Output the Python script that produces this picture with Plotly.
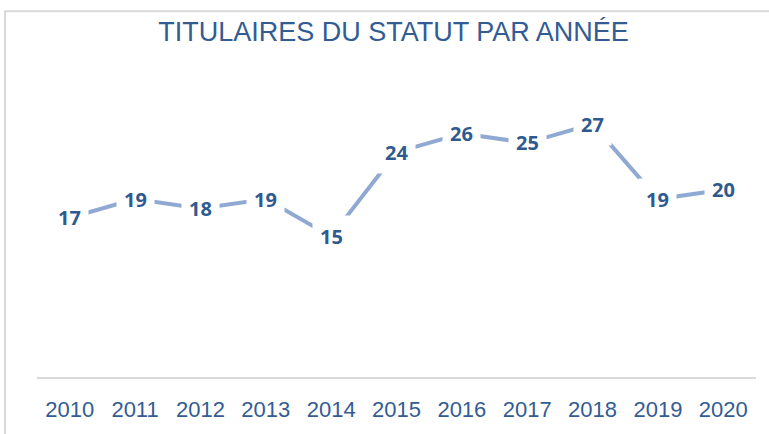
import plotly.graph_objects as go

years = ["2010", "2011", "2012", "2013", "2014", "2015", "2016", "2017", "2018", "2019", "2020"]
values = [17, 19, 18, 19, 15, 24, 26, 25, 27, 19, 20]

W, H = 769, 434
ml, mr, mt, mb = 37, 13, 96, 53
pw = W - ml - mr
ph = H - mt - mb

idx = list(range(len(years)))

fig = go.Figure()
fig.add_trace(go.Scatter(
    x=idx, y=values, mode="lines",
    line=dict(color="#8FA9D3", width=4),
    hoverinfo="skip", showlegend=False,
))

for i, yv in zip(idx, values):
    fig.add_annotation(
        x=i, y=yv, xref="x", yref="y", text=str(yv), showarrow=False,
        font=dict(family="Open Sans", size=20, color="#2F5A90", weight="bold"),
        bgcolor="white", borderpad=7,
    )

# outer frame
fig.add_shape(
    type="rect", xref="paper", yref="paper",
    x0=(5 - ml) / pw, x1=(W + 10 - ml) / pw,
    y0=(H - mb - (H + 10)) / ph, y1=(H - mb - 10) / ph,
    line=dict(color="#D9D9D9", width=2), fillcolor="rgba(0,0,0,0)", layer="below",
)

fig.update_layout(
    width=W, height=H,
    margin=dict(l=ml, r=mr, t=mt, b=mb),
    paper_bgcolor="white", plot_bgcolor="white",
    title=dict(
        text="TITULAIRES DU STATUT PAR ANNÉE",
        x=393.5 / W, xanchor="center", y=1 - 32 / H, yanchor="middle",
        font=dict(family="Liberation Sans", size=27, color="#335C94"),
    ),
    xaxis=dict(
        range=[-0.5, len(years) - 0.5], showgrid=False, zeroline=False,
        tickmode="array", tickvals=idx, ticktext=years,
        showline=True, linecolor="#D9D9D9", linewidth=2,
        ticks="", ticklabelstandoff=12,
        tickfont=dict(family="Liberation Sans", size=22, color="#335C94"),
    ),
    yaxis=dict(range=[0, 30], visible=False, showgrid=False),
)

fig.write_html("out.html")
